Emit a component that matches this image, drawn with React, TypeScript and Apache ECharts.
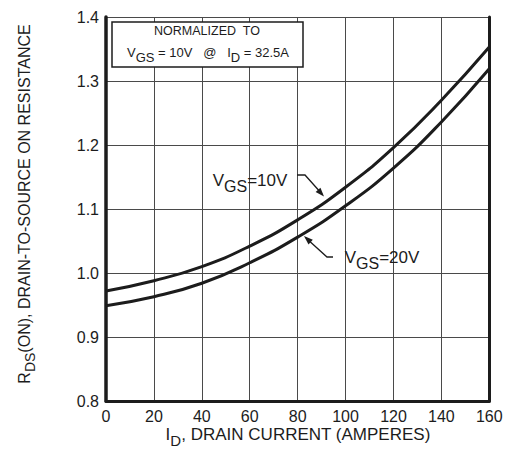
import React, { useEffect, useRef } from "react";
import * as echarts from "echarts";

const currentA = [0, 20, 40, 60, 80, 100, 120, 140, 160];
const vgs10 = [0.972, 0.988, 1.01, 1.042, 1.083, 1.134, 1.196, 1.27, 1.353];
const vgs20 = [0.949, 0.963, 0.984, 1.016, 1.056, 1.105, 1.164, 1.236, 1.319];
const yTicks = [0.8, 0.9, 1.0, 1.1, 1.2, 1.3, 1.4];

const FONT = "Liberation Sans";
const INK = "#1c1c1c";

export default function App() {
  const ref = useRef<HTMLDivElement>(null);
  useEffect(() => {
    document.body.style.margin = "0";
    const chart = echarts.init(ref.current!, null, { renderer: "svg" });
    const sub = (size: number, pad: number) => ({
      fontSize: size,
      fontFamily: FONT,
      fill: INK,
      padding: [pad, 0, 0, 0],
    });
    const norm = (size: number) => ({ fontSize: size, fontFamily: FONT, fill: INK });
    const arrowHead = (bx: number, by: number, tx: number, ty: number) => {
      const dx = tx - bx, dy = ty - by;
      const L = Math.sqrt(dx * dx + dy * dy);
      const ux = dx / L, uy = dy / L;
      const hl = 9, hw = 3.2;
      const cx = tx - ux * hl, cy = ty - uy * hl;
      return [
        [tx, ty],
        [cx - uy * hw, cy + ux * hw],
        [cx + uy * hw, cy - ux * hw],
      ];
    };
    chart.setOption({
      animation: false,
      grid: { left: 106, right: 16.7, top: 17, bottom: 49 },
      xAxis: {
        type: "value",
        min: 0,
        max: 160,
        interval: 20,
        axisLine: { show: true, onZero: false, lineStyle: { color: INK, width: 3 } },
        axisTick: { show: false },
        axisLabel: { fontSize: 16, fontFamily: FONT, color: INK, margin: 7 },
        splitLine: { show: true, lineStyle: { color: "#4a4a4a", width: 1 } },
      },
      yAxis: [
        {
          type: "value",
          min: 0.8,
          max: 1.4,
          interval: 0.1,
          axisLine: { show: true, onZero: false, lineStyle: { color: INK, width: 3.5 } },
          axisTick: { show: false },
          axisLabel: {
            fontSize: 16,
            fontFamily: FONT,
            color: INK,
            margin: 7,
            formatter: (v: number) => v.toFixed(1),
          },
          splitLine: { show: true, lineStyle: { color: "#4a4a4a", width: 1 } },
        },
        {
          type: "value",
          position: "right",
          min: 0.8,
          max: 1.4,
          interval: 0.1,
          axisLine: { show: true, onZero: false, lineStyle: { color: INK, width: 3 } },
          axisTick: { show: false },
          axisLabel: { show: false },
          splitLine: { show: false },
        },
      ],
      series: [
        {
          name: "VGS=10V",
          type: "line",
          smooth: 0.5,
          symbol: "none",
          lineStyle: { color: INK, width: 3 },
          data: currentA.map((x, i) => [x, vgs10[i]]),
          z: 5,
        },
        {
          name: "VGS=20V",
          type: "line",
          smooth: 0.5,
          symbol: "none",
          lineStyle: { color: INK, width: 3 },
          data: currentA.map((x, i) => [x, vgs20[i]]),
          z: 5,
        },
      ],
      graphic: [
        {
          type: "rect",
          shape: { x: 112, y: 22, width: 191, height: 45 },
          style: { fill: "#fff", stroke: INK, lineWidth: 1.5 },
          z: 10,
        },
        {
          type: "text",
          x: 207,
          y: 31,
          style: {
            text: "NORMALIZED  TO",
            fontSize: 12.5,
            fontFamily: FONT,
            fill: INK,
            align: "center",
            verticalAlign: "middle",
          },
          z: 11,
        },
        {
          type: "text",
          x: 208,
          y: 52,
          style: {
            text: "{n|V}{s|GS}{n| = 10V   @   I}{s|D}{n| = 32.5A}",
            align: "center",
            verticalAlign: "middle",
            rich: { n: norm(13), s: sub(13, 11) },
          },
          z: 11,
        },
        {
          type: "text",
          x: 250,
          y: 180,
          style: {
            text: "{n|V}{s|GS}{n|=10V}",
            align: "center",
            verticalAlign: "middle",
            rich: { n: norm(17), s: sub(16, 12) },
          },
          z: 11,
        },
        {
          type: "text",
          x: 382,
          y: 257,
          style: {
            text: "{n|V}{s|GS}{n|=20V}",
            align: "center",
            verticalAlign: "middle",
            rich: { n: norm(17), s: sub(16, 12) },
          },
          z: 11,
        },
        {
          type: "polyline",
          shape: { points: [[297, 175], [305, 175], [322, 194]] },
          style: { stroke: INK, lineWidth: 1.3, fill: null },
          z: 11,
        },
        {
          type: "polygon",
          shape: { points: arrowHead(305, 175, 324, 196.5) },
          style: { fill: INK },
          z: 11,
        },
        {
          type: "polyline",
          shape: { points: [[333, 257], [327, 257], [306, 238]] },
          style: { stroke: INK, lineWidth: 1.3, fill: null },
          z: 11,
        },
        {
          type: "polygon",
          shape: { points: arrowHead(327, 257, 304, 236) },
          style: { fill: INK },
          z: 11,
        },
        {
          type: "text",
          x: 298,
          y: 434,
          style: {
            text: "{n|I}{s|D}{n|, DRAIN CURRENT (AMPERES)}",
            align: "center",
            verticalAlign: "middle",
            rich: { n: norm(17), s: sub(15, 12) },
          },
        },
        {
          type: "text",
          x: 24,
          y: 204,
          rotation: Math.PI / 2,
          style: {
            text: "{n|R}{s|DS}{n|(ON), DRAIN-TO-SOURCE ON RESISTANCE}",
            align: "center",
            verticalAlign: "middle",
            rich: { n: norm(16), s: sub(14, 12) },
          },
        },
      ],
    });
    return () => chart.dispose();
  }, []);
  return <div ref={ref} style={{ width: 506, height: 450 }} />;
}

export const _ticks = yTicks;
